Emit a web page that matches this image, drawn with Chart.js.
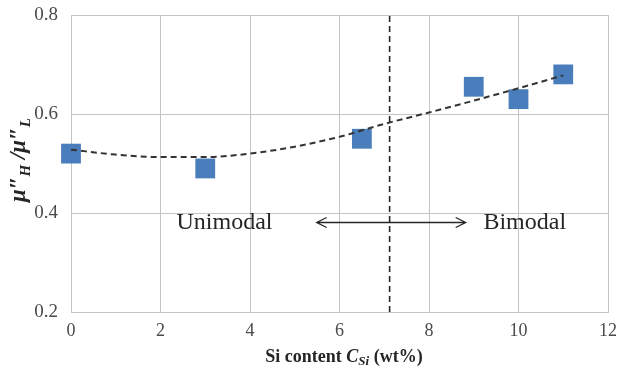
<!DOCTYPE html>
<html>
<head>
<meta charset="utf-8">
<script src="https://cdn.jsdelivr.net/npm/chart.js@4/dist/chart.umd.min.js"></script>
<style>
  html, body { margin: 0; padding: 0; background: #fff; }
  #wrap { width: 622px; height: 371px; }
</style>
</head>
<body>
<div id="wrap"><canvas id="c" width="622" height="371"></canvas></div>
<script>
// Measured ratio against Si content
const siContent = [0, 3, 6.5, 9, 10, 11];
const ratio = [0.52, 0.49, 0.55, 0.655, 0.63, 0.68];

// Polynomial trend curve, sampled along the Si axis
const trendX = [0, 1, 2, 3, 4, 5, 6, 7, 8, 9, 10, 11];
const trendY = [0.528, 0.518, 0.513, 0.513, 0.52, 0.534, 0.554, 0.58, 0.603, 0.627, 0.652, 0.678];

// Boundary between the unimodal and bimodal regimes
const boundarySi = 7.12;

const xTicks = [0, 2, 4, 6, 8, 10, 12];
const yTicks = [0.2, 0.4, 0.6, 0.8];

const serif = '"Liberation Serif", "Times New Roman", serif';

// Plot area edges in canvas pixels
const plotLeft = 71, plotRight = 613;

// Draws the axis titles, regime labels and the double arrow
const annotations = {
  id: 'annotations',
  afterDraw(chart) {
    const ctx = chart.ctx;
    const xs = chart.scales.x, ys = chart.scales.y;
    ctx.save();
    ctx.fillStyle = '#262626';
    ctx.strokeStyle = '#262626';

    // regime labels
    ctx.font = '24px ' + serif;
    ctx.textAlign = 'center';
    ctx.textBaseline = 'middle';
    ctx.fillText('Unimodal', xs.getPixelForValue(3.43), ys.getPixelForValue(0.38));
    ctx.fillText('Bimodal', xs.getPixelForValue(10.14), ys.getPixelForValue(0.38));

    // double arrow
    const ax1 = xs.getPixelForValue(5.49), ax2 = xs.getPixelForValue(8.82);
    const ay = Math.round(ys.getPixelForValue(0.382)) + 0.5;
    ctx.lineWidth = 1.3;
    ctx.beginPath();
    ctx.moveTo(ax1, ay); ctx.lineTo(ax2, ay);
    ctx.moveTo(ax1 + 10, ay - 5); ctx.lineTo(ax1, ay); ctx.lineTo(ax1 + 10, ay + 5);
    ctx.moveTo(ax2 - 10, ay - 5); ctx.lineTo(ax2, ay); ctx.lineTo(ax2 - 10, ay + 5);
    ctx.stroke();

    // x axis title: Si content C_Si (wt%)
    ctx.textAlign = 'left';
    ctx.textBaseline = 'alphabetic';
    const parts = [
      { t: 'Si content ', f: 'bold 18px ' + serif, dy: 0 },
      { t: 'C', f: 'italic bold 18px ' + serif, dy: 0 },
      { t: 'Si', f: 'italic bold 13px ' + serif, dy: 3 },
      { t: ' (wt%)', f: 'bold 18px ' + serif, dy: 0 }
    ];
    let total = 0;
    parts.forEach(p => { ctx.font = p.f; total += ctx.measureText(p.t).width; });
    let px = 344 - total / 2;
    parts.forEach(p => { ctx.font = p.f; ctx.fillText(p.t, px, 362 + p.dy); px += ctx.measureText(p.t).width; });

    // y axis title: mu''_H / mu''_L, rotated
    ctx.translate(25, 160);
    ctx.rotate(-Math.PI / 2);
    const yparts = [
      { t: 'μ″', f: 'italic bold 23px ' + serif, dy: 0 },
      { t: 'H', f: 'italic bold 15px ' + serif, dy: 5 },
      { t: ' /μ″', f: 'italic bold 23px ' + serif, dy: 0 },
      { t: 'L', f: 'italic bold 15px ' + serif, dy: 5 }
    ];
    total = 0;
    yparts.forEach(p => { ctx.font = p.f; total += ctx.measureText(p.t).width; });
    px = -total / 2;
    yparts.forEach(p => { ctx.font = p.f; ctx.fillText(p.t, px, p.dy); px += ctx.measureText(p.t).width; });
    ctx.restore();
  }
};

new Chart(document.getElementById('c'), {
  type: 'scatter',
  data: {
    datasets: [
      {
        label: 'boundary',
        data: [{ x: boundarySi, y: 0.2 }, { x: boundarySi, y: 0.8 }],
        showLine: true,
        borderColor: '#262626',
        borderWidth: 1.6,
        borderDash: [6, 4],
        pointRadius: 0,
        order: 3
      },
      {
        label: 'trend',
        data: trendX.map((x, i) => ({ x, y: trendY[i] })),
        showLine: true,
        borderColor: '#333333',
        borderWidth: 2,
        borderDash: [6, 4],
        cubicInterpolationMode: 'monotone',
        pointRadius: 0,
        order: 1
      },
      {
        label: 'ratio',
        data: siContent.map((x, i) => ({ x, y: ratio[i] })),
        pointStyle: 'rect',
        pointRadius: 14,
        pointHoverRadius: 14,
        backgroundColor: '#4a7dbb',
        borderColor: '#4a7dbb',
        borderWidth: 0,
        order: 2
      }
    ]
  },
  options: {
    responsive: false,
    animation: false,
    clip: false,
    layout: { padding: { top: 15, right: 0, left: 0, bottom: 0 } },
    plugins: { legend: { display: false }, tooltip: { enabled: false } },
    scales: {
      x: {
        type: 'linear',
        min: 0, max: 12,
        afterBuildTicks: s => { s.ticks = xTicks.map(v => ({ value: v })); },
        afterFit: s => { s.height = 59; s.paddingLeft = 0; s.paddingRight = 622 - plotRight; },
        grid: { color: '#c4c4c4', lineWidth: 1, drawTicks: false },
        border: { color: '#c4c4c4' },
        ticks: { padding: 8, color: '#4a4a4a', font: { family: serif, size: 18 } }
      },
      y: {
        min: 0.2, max: 0.8,
        afterBuildTicks: s => { s.ticks = yTicks.map(v => ({ value: v })); },
        afterFit: s => { s.width = plotLeft; s.paddingTop = 0; s.paddingBottom = 0; },
        grid: { color: '#c4c4c4', lineWidth: 1, drawTicks: false },
        border: { color: '#c4c4c4' },
        ticks: { padding: 13, color: '#4a4a4a', font: { family: serif, size: 19 },
                 callback: v => v.toFixed(1) }
      }
    }
  },
  plugins: [annotations]
});
</script>
</body>
</html>
